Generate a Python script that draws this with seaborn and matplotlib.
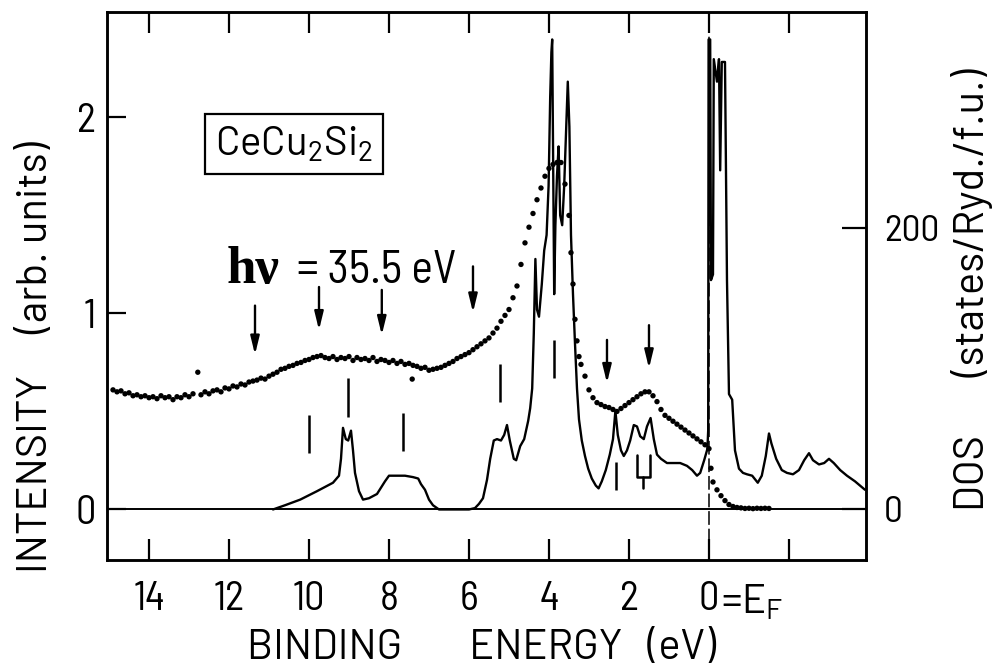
import matplotlib
matplotlib.use('Agg')
import matplotlib.pyplot as plt
from matplotlib.transforms import blended_transform_factory
import seaborn as sns

# ---------------- data ----------------
# photoemission spectrum (dots), binding energy in eV, intensity in arb. units
spec_energy = [14.9, 14.8, 14.7, 14.6, 14.5, 14.4, 14.3, 14.2, 14.1, 14.0,
               13.9, 13.8, 13.7, 13.6, 13.5, 13.4, 13.3, 13.2, 13.1, 13.0,
               12.9, 12.78, 12.7, 12.6, 12.5, 12.4, 12.3, 12.2, 12.1, 12.0,
               11.9, 11.8, 11.7, 11.6, 11.5, 11.4, 11.3, 11.2, 11.1, 11.0,
               10.9, 10.8, 10.7, 10.6, 10.5, 10.4, 10.3, 10.2, 10.1, 10.0,
               9.9, 9.8, 9.7, 9.6, 9.5, 9.4, 9.3, 9.2, 9.1, 9.0,
               8.9, 8.8, 8.7, 8.6, 8.5, 8.4, 8.3, 8.2, 8.1, 8.0,
               7.9, 7.8, 7.7, 7.6, 7.5, 7.42, 7.4, 7.3, 7.2, 7.1, 7.0,
               6.9, 6.8, 6.7, 6.6, 6.5, 6.4, 6.3, 6.2, 6.1, 6.0,
               5.9, 5.8, 5.7, 5.6, 5.5, 5.4, 5.3, 5.2, 5.1, 5.0,
               4.9, 4.8, 4.7, 4.6, 4.5, 4.4, 4.3, 4.2, 4.1, 4.0,
               3.9, 3.8, 3.7, 3.6, 3.5, 3.45, 3.4, 3.35, 3.3, 3.25, 3.2,
               3.1, 3.0, 2.9, 2.8, 2.7, 2.6, 2.5, 2.4, 2.3, 2.2, 2.1, 2.0,
               1.9, 1.8, 1.7, 1.6, 1.5, 1.4, 1.3, 1.2, 1.1, 1.0,
               0.9, 0.8, 0.7, 0.6, 0.5, 0.4, 0.3, 0.2, 0.1, 0.0,
               -0.05, -0.1, -0.2, -0.3, -0.4, -0.5, -0.6, -0.7, -0.8, -0.9,
               -1.0, -1.1, -1.2, -1.3, -1.4, -1.5]
spec_intensity = [0.61, 0.60, 0.605, 0.59, 0.595, 0.58, 0.585, 0.575, 0.58, 0.57,
                  0.575, 0.565, 0.58, 0.57, 0.575, 0.56, 0.575, 0.57, 0.585, 0.575,
                  0.59, 0.70, 0.585, 0.60, 0.59, 0.605, 0.61, 0.60, 0.62, 0.615,
                  0.63, 0.625, 0.64, 0.635, 0.65, 0.655, 0.66, 0.67, 0.665, 0.68,
                  0.69, 0.70, 0.715, 0.72, 0.73, 0.735, 0.745, 0.75, 0.76, 0.765,
                  0.775, 0.78, 0.785, 0.775, 0.77, 0.78, 0.765, 0.775, 0.77, 0.78,
                  0.76, 0.775, 0.765, 0.77, 0.76, 0.775, 0.755, 0.765, 0.76, 0.75,
                  0.76, 0.745, 0.755, 0.74, 0.745, 0.665, 0.735, 0.73, 0.72, 0.725, 0.71,
                  0.715, 0.72, 0.725, 0.735, 0.745, 0.755, 0.77, 0.78, 0.79, 0.80,
                  0.815, 0.83, 0.845, 0.86, 0.875, 0.90, 0.925, 0.96, 0.99, 1.02,
                  1.08, 1.14, 1.25, 1.36, 1.44, 1.51, 1.58, 1.64, 1.70, 1.74,
                  1.76, 1.77, 1.77, 1.66, 1.50, 1.31, 1.15, 0.97, 0.86, 0.78, 0.74,
                  0.68, 0.61, 0.57, 0.545, 0.535, 0.525, 0.52, 0.51, 0.50, 0.515, 0.53, 0.545,
                  0.56, 0.575, 0.59, 0.60, 0.60, 0.58, 0.55, 0.51, 0.48, 0.465,
                  0.45, 0.435, 0.42, 0.405, 0.39, 0.375, 0.36, 0.345, 0.33, 0.31,
                  0.21, 0.14, 0.10, 0.07, 0.045, 0.025, 0.015, 0.01, 0.008, 0.005,
                  0.006, 0.004, 0.006, 0.005, 0.006, 0.005]

# calculated density of states (solid line), states/Ryd./f.u.
dos_energy = [10.9, 10.6, 10.22, 9.8, 9.4, 9.25, 9.2, 9.15, 9.08, 9.02,
              8.95, 8.9, 8.85, 8.75, 8.65, 8.5, 8.3, 8.1, 8.0, 7.8,
              7.6, 7.4, 7.27, 7.2, 7.1, 7.0, 6.9, 6.75, 6.0, 5.85,
              5.75, 5.65, 5.55, 5.47, 5.38, 5.3, 5.2, 5.12, 5.05, 4.98,
              4.88, 4.82, 4.72, 4.62, 4.52, 4.47, 4.42, 4.38, 4.34, 4.30,
              4.25, 4.18, 4.12, 4.06, 4.01, 3.97, 3.94, 3.92, 3.90, 3.87,
              3.84, 3.80, 3.76, 3.72, 3.67, 3.62, 3.57, 3.53, 3.49, 3.45,
              3.40, 3.35, 3.30, 3.25, 3.18, 3.10, 3.02, 2.93, 2.83, 2.76,
              2.68, 2.58, 2.48, 2.40, 2.34, 2.28, 2.20, 2.13, 2.05, 1.97,
              1.88, 1.80, 1.72, 1.63, 1.55, 1.46, 1.38, 1.30, 1.20, 1.05,
              0.90, 0.72, 0.55, 0.42, 0.30, 0.22, 0.12, 0.04, 0.02, 0.01,
              -0.03, -0.05, -0.10, -0.12, -0.20, -0.25, -0.28, -0.32, -0.40, -0.45,
              -0.50, -0.58, -0.65, -0.75, -0.85, -0.95, -1.08, -1.22, -1.32, -1.42,
              -1.50, -1.56, -1.68, -1.82, -1.95, -2.10, -2.25, -2.38, -2.50, -2.60,
              -2.75, -2.88, -3.00, -3.12, -3.28, -3.45, -3.65, -3.90]
dos_value = [0, 3, 7, 13, 19, 24, 36, 58, 50, 49,
             56, 42, 26, 13, 7, 8, 11, 20, 24, 24,
             24, 23, 22, 18, 14, 7, 3, 0, 0, 1,
             4, 8, 21, 36, 49, 50, 49, 53, 60, 49,
             36, 35, 45, 50, 63, 72, 86, 125, 178, 142,
             137, 160, 184, 195, 230, 293, 325, 334, 258, 153,
             202, 237, 258, 209, 202, 230, 272, 304, 272, 195,
             153, 118, 86, 64, 49, 38, 29, 22, 17, 15,
             20, 28, 39, 50, 70, 53, 42, 38, 42, 49,
             60, 59, 52, 50, 59, 65, 50, 39, 36, 33,
             33, 33, 31, 28, 24, 26, 35, 43, 56, 334,
             334, 163, 167, 320, 304, 320, 241, 318, 318, 163,
             82, 78, 42, 29, 26, 25, 24, 19, 24, 38,
             54, 47, 36, 28, 26, 25, 28, 35, 40, 35,
             32, 33, 36, 33, 28, 24, 20, 14]

# downward arrows (energy, top, bottom in intensity units)
arrow_energy = [11.35, 9.75, 8.18, 5.9, 2.55, 1.5]
arrow_top = [1.04, 1.135, 1.12, 1.24, 0.865, 0.94]
arrow_bottom = [0.79, 0.915, 0.89, 1.005, 0.645, 0.72]

# vertical marker bars
bar_energy = [10.0, 9.03, 7.65, 5.22, 3.88, 2.33]
bar_top = [0.48, 0.67, 0.49, 0.74, 0.865, 0.24]
bar_bottom = [0.29, 0.47, 0.30, 0.55, 0.67, 0.10]
u_energy = [1.80, 1.80, 1.47, 1.47]
u_level = [0.28, 0.165, 0.165, 0.28]
stem_energy = [1.64, 1.64]
stem_level = [0.165, 0.11]

x_ticks = [14, 12, 10, 8, 6, 4, 2, 0, -2]
x_tick_labels = ['14', '12', '10', '8', '6', '4', '2', '0', '']
y_ticks = [0, 1, 2]
dos_ticks = [0, 200]

# ---------------- style ----------------
sns.set_theme(style='white')
NUM = 'Barlow Semi Condensed'
WORD = 'Barlow'
plt.rcParams['font.family'] = [NUM, 'DejaVu Sans']
plt.rcParams['mathtext.fontset'] = 'custom'
plt.rcParams['mathtext.rm'] = WORD
plt.rcParams['mathtext.it'] = WORD
plt.rcParams['mathtext.bf'] = WORD

FS_TICK = 29
FS_WORD = 30

fig = plt.figure(figsize=(10.05, 6.68), dpi=100)
fig.patch.set_facecolor('white')
ax = fig.add_axes([0.10647, 0.16168, 0.7552, 0.82036])
ax2 = ax.twinx()

sns.lineplot(x=dos_energy, y=dos_value, ax=ax2, color='black', lw=1.7,
             sort=False, estimator=None)
sns.scatterplot(x=spec_energy, y=spec_intensity, ax=ax, color='black', s=15,
                edgecolor='none', linewidth=0)

ax.axhline(0, color='black', lw=1.4, zorder=1)
ax.axvline(0, color='black', lw=1.1, ls=(0, (9, 2.5)), zorder=1)

for x, t, b in zip(arrow_energy, arrow_top, arrow_bottom):
    ax.annotate('', xy=(x, b), xytext=(x, t),
                arrowprops=dict(arrowstyle='-|>,head_length=0.9,head_width=0.22',
                                color='black', lw=1.7, shrinkA=0, shrinkB=0))
ax.vlines(bar_energy, bar_bottom, bar_top, color='black', lw=1.8)
ax.plot(u_energy, u_level, color='black', lw=1.8)
ax.plot(stem_energy, stem_level, color='black', lw=1.8)

ax.set_xlim(15.05, -3.925)
ax.set_ylim(-0.258, 2.538)
ax2.set_ylim(-35.9, 353.5)

ax.set_xticks(x_ticks)
ax.set_xticklabels(x_tick_labels)
ax.set_yticks(y_ticks)
ax.set_yticklabels([str(v) for v in y_ticks])
ax2.set_yticks(dos_ticks)
ax2.set_yticklabels([str(v) for v in dos_ticks])

ax.tick_params(axis='x', direction='in', length=15, width=1.6, top=True,
               bottom=True, labelsize=FS_TICK, pad=15, colors='black')
ax.tick_params(axis='y', direction='in', length=14, width=1.6, left=True,
               right=False, labelsize=FS_TICK, pad=8, colors='black')
ax2.tick_params(axis='y', direction='in', length=17, width=1.6, right=True,
                left=False, labelsize=27, pad=13, colors='black')
for a in (ax, ax2):
    a.set_xlabel('')
    a.set_ylabel('')
    for sp in a.spines.values():
        sp.set_color('black')
        sp.set_linewidth(1.8)

# E_F annotation next to the 0 tick label
trans = blended_transform_factory(ax.transData, ax.transAxes)
ax.text(-0.3, -0.077, r'=E$_{\mathrm{F}}$', transform=trans, ha='left',
        va='center', fontsize=FS_TICK, color='black', family=[WORD, 'DejaVu Sans'])

# axis titles
ax.text(0.4928, -0.161, 'BINDING        ENERGY   (eV)', transform=ax.transAxes,
        ha='center', va='center', fontsize=FS_WORD, color='black',
        family=[WORD, 'DejaVu Sans'])
ax.text(-0.093, 0.37, 'INTENSITY     (arb. units)', transform=ax.transAxes,
        rotation=90, ha='center', va='center', fontsize=FS_WORD, color='black',
        family=[WORD, 'DejaVu Sans'])
ax.text(1.14, 0.493, 'DOS       (states/Ryd./f.u.)', transform=ax.transAxes,
        rotation=90, ha='center', va='center', fontsize=FS_WORD, color='black',
        family=[WORD, 'DejaVu Sans'])

# sample label box
ax.text(10.375, 1.865, r'CeCu$_{2}$Si$_{2}$', ha='center', va='center',
        fontsize=29, color='black', family=[WORD, 'DejaVu Sans'],
        bbox=dict(boxstyle='square,pad=0.25', fc='white', ec='black', lw=1.6))

# photon energy
ax.text(12.05, 1.156, 'hν', ha='left', va='baseline', fontsize=38,
        family=['Liberation Serif', 'DejaVu Serif'], weight='bold', color='black')
ax.text(10.3, 1.156, '= 35.5 eV', ha='left', va='baseline', fontsize=33,
        color='black')

fig.savefig('out.png', dpi=100, facecolor='white')
